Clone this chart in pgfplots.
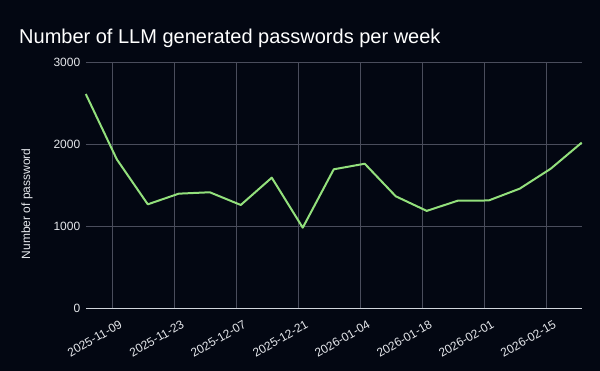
\documentclass[border=0pt]{standalone}
\usepackage{pgfplots}
\pgfplotsset{compat=1.18}
\usepackage{fontspec}
\setmainfont{Liberation Sans}
\definecolor{bg}{HTML}{030712}
\definecolor{gridc}{HTML}{4A4D5C}
\definecolor{linec}{HTML}{93E07C}
\definecolor{txt}{HTML}{E5E7EB}
\definecolor{zeroc}{HTML}{D1D5DB}
\begin{document}
\begin{tikzpicture}[x=1pt,y=1pt]
\fill[bg] (0,0) rectangle (600,371);
\node[anchor=base west, text=white, font=\fontsize{20}{23}\selectfont, inner sep=0pt] at (19,327) {Number of LLM generated passwords per week};
\begin{axis}[
  at={(85.8pt,62.7pt)}, anchor=south west,
  scale only axis, width=495.9pt, height=246pt,
  xmin=-6, xmax=106, ymin=0, ymax=3000,
  axis line style={draw=none},
  axis x line*=bottom, axis y line*=left,
  xtick={0,14,28,42,56,70,84,98},
  xticklabels={2025-11-09,2025-11-23,2025-12-07,2025-12-21,2026-01-04,2026-01-18,2026-02-01,2026-02-15},
  ytick={0,1000,2000,3000},
  major tick length=0pt,
  grid=major,
  major grid style={gridc, line width=0.8pt},
  tick label style={text=txt, font=\fontsize{12}{14}\selectfont},
  x tick label style={rotate=30, anchor=north east, inner sep=1pt, yshift=-12pt, xshift=1pt},
  y tick label style={xshift=-2pt},
  /pgf/number format/assume math mode=true,
  yticklabel={\pgfmathprintnumber[fixed,1000 sep={}]{\tick}},
  ylabel={Number of password},
  ylabel style={text=txt, font=\fontsize{12}{14}\selectfont, at={(axis description cs:0,0.425)}, anchor=center, yshift=58.8pt},
  clip=false,
]
\addplot[linec, line width=2pt, line join=round] coordinates {
(-6,2613) (1,1817) (8,1268) (15,1398) (22,1415) (29,1260) (36,1593) (43,983) (50,1695) (57,1763) (64,1366) (71,1188) (78,1312) (85,1315) (92,1459) (99,1702) (106,2020)
};
\draw[zeroc, line width=1pt] (axis cs:-6,0) -- (axis cs:106,0);
\end{axis}
\end{tikzpicture}
\end{document}
